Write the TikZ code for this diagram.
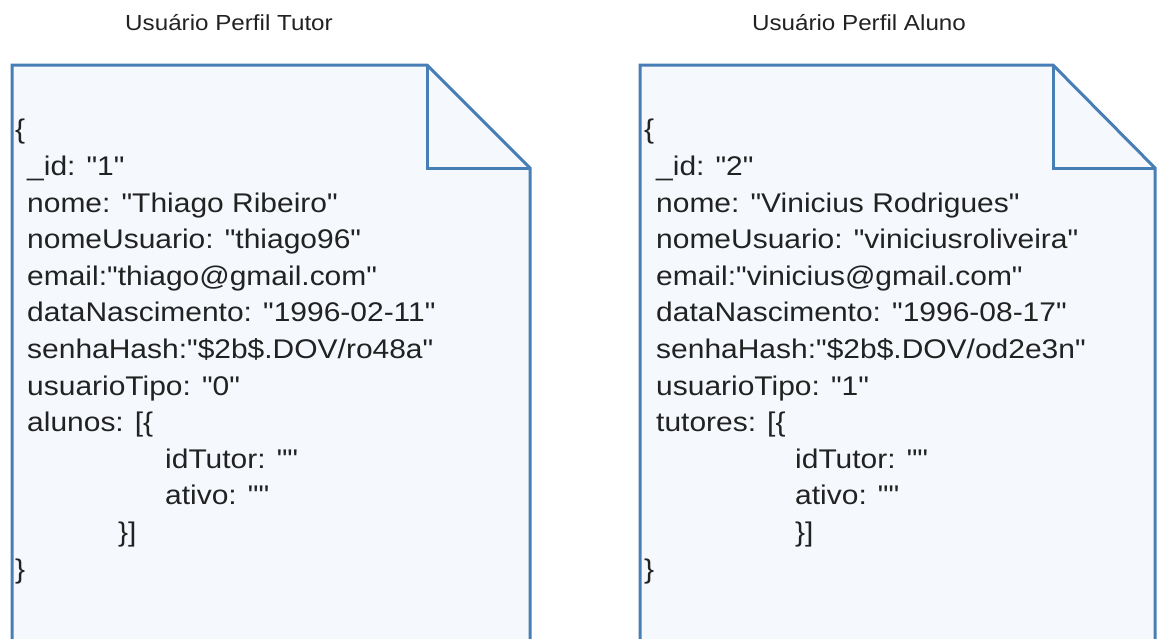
\documentclass[tikz,border=0pt]{standalone}
\usepackage{fontspec}
\newfontfamily\jsonfont{Liberation Sans}[FakeStretch=1.11]
\usetikzlibrary{positioning}
\definecolor{docfill}{RGB}{245,249,254}
\definecolor{docedge}{RGB}{72,126,182}
\definecolor{jsontext}{RGB}{34,34,34}

\begin{document}
\begin{tikzpicture}[
  x=1pt,y=-1pt,
  docpage/.style={draw=docedge,fill=docfill,line width=3pt,line join=miter},
  docfold/.style={draw=docedge,line width=3pt},
  title/.style={font=\jsonfont\fontsize{21.8}{26}\selectfont,text=jsontext,anchor=base,inner sep=0pt},
  jsonline/.style={font=\jsonfont\fontsize{27}{33}\selectfont,text=jsontext,anchor=base west,inner sep=0pt}
]
\useasboundingbox (0,0) rectangle (1157,638);
\clip (0,0) rectangle (1157,638);

% Titles above the two documents.
\node[title] (tutorTitle) at (229,30) {Usuário Perfil Tutor};
\node[title] (alunoTitle) at (859,30) {Usuário Perfil Aluno};

% Tutor document page with folded corner.
\draw[docpage] (12,660) -- (12,65) -- (427,65) -- (530,168) -- (530,660);
\draw[docfold] (427,65) -- (427,168) -- (530,168);

\node[jsonline] (tutorOpen) at (15,138.8) {\{};
\node[jsonline] (tutorId) at (27,175.4) {\_id: "1"};
\node[jsonline] (tutorNome) at (27,212.0) {nome: "Thiago Ribeiro"};
\node[jsonline] (tutorUser) at (27,248.6) {nomeUsuario: "thiago96"};
\node[jsonline] (tutorMail) at (27,285.2) {email:"thiago@gmail.com"};
\node[jsonline] (tutorData) at (27,321.8) {dataNascimento: "1996-02-11"};
\node[jsonline] (tutorHash) at (27,358.4) {senhaHash:"\$2b\$.DOV/ro48a"};
\node[jsonline] (tutorTipo) at (27,395.0) {usuarioTipo: "0"};
\node[jsonline] (tutorList) at (27,431.6) {alunos: [\{};
\node[jsonline] (tutorIdT) at (165,468.2) {idTutor: ""};
\node[jsonline] (tutorAtivo) at (165,504.8) {ativo: ""};
\node[jsonline] (tutorEndList) at (118,541.4) {\}]};
\node[jsonline] (tutorClose) at (15,578.0) {\}};

% Aluno document page with folded corner.
\draw[docpage] (640,660) -- (640,65) -- (1053,65) -- (1155,168) -- (1155,660);
\draw[docfold] (1053,65) -- (1053,168) -- (1155,168);

\node[jsonline] (alunoOpen) at (644,138.8) {\{};
\node[jsonline] (alunoId) at (656,175.4) {\_id: "2"};
\node[jsonline] (alunoNome) at (656,212.0) {nome: "Vinicius Rodrigues"};
\node[jsonline] (alunoUser) at (656,248.6) {nomeUsuario: "viniciusroliveira"};
\node[jsonline] (alunoMail) at (656,285.2) {email:"vinicius@gmail.com"};
\node[jsonline] (alunoData) at (656,321.8) {dataNascimento: "1996-08-17"};
\node[jsonline] (alunoHash) at (656,358.4) {senhaHash:"\$2b\$.DOV/od2e3n"};
\node[jsonline] (alunoTipo) at (656,395.0) {usuarioTipo: "1"};
\node[jsonline] (alunoList) at (656,431.6) {tutores: [\{};
\node[jsonline] (alunoIdT) at (795,468.2) {idTutor: ""};
\node[jsonline] (alunoAtivo) at (795,504.8) {ativo: ""};
\node[jsonline] (alunoEndList) at (795,541.4) {\}]};
\node[jsonline] (alunoClose) at (644,578.0) {\}};
\end{tikzpicture}
\end{document}
